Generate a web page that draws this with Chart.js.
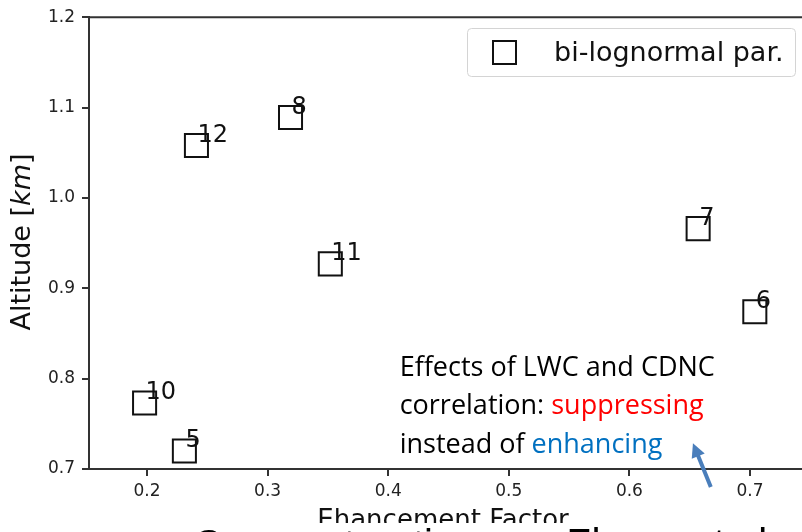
<!DOCTYPE html>
<html>
<head>
  <meta charset="utf-8">
  <title>Enhancement factor vs altitude</title>
  <script src="https://cdn.jsdelivr.net/npm/chart.js"></script>
  <style>
    html, body {
      margin: 0;
      padding: 0;
      background: #fff;
      overflow: hidden;
    }
    #efChart {
      position: absolute;
      left: 0;
      top: 0;
    }
  </style>
</head>
<body>
  <canvas id="efChart" width="830" height="532"></canvas>

  <script>
    // case numbers, enhancement factor and altitude (km) of each case
    const caseIds = ['12', '8', '11', '7', '6', '10', '5'];
    const enhancement = [0.241, 0.319, 0.352, 0.657, 0.704, 0.198, 0.231];
    const altitude = [1.058, 1.089, 0.927, 0.966, 0.874, 0.773, 0.720];

    const xTicks = [0.2, 0.3, 0.4, 0.5, 0.6, 0.7];
    const yTicks = [0.7, 0.8, 0.9, 1.0, 1.1, 1.2];

    const seriesName = 'bi-lognormal par.';
    const axisFont = 'DejaVu Sans';
    const ink = '#111';
    const spine = '#333';

    const points = enhancement.map((x, i) => ({ x: x, y: altitude[i] }));

    // spine on top, case labels, framed legend, note + arrow, axis titles
    const decor = {
      id: 'decor',
      afterDraw(chart) {
        const ctx = chart.ctx;
        const area = chart.chartArea;
        const xs = chart.scales.x;
        const ys = chart.scales.y;
        ctx.save();

        ctx.strokeStyle = spine;
        ctx.lineWidth = 2;
        ctx.beginPath();
        ctx.moveTo(area.left - 1, area.top);
        ctx.lineTo(area.right, area.top);
        ctx.stroke();

        // case number beside each marker
        ctx.fillStyle = ink;
        ctx.font = '24px "' + axisFont + '"';
        ctx.textAlign = 'left';
        ctx.textBaseline = 'middle';
        const meta = chart.getDatasetMeta(0);
        meta.data.forEach((pt, i) => {
          ctx.fillText(caseIds[i], pt.x + 1, pt.y - 10);
        });

        // legend box
        const lx = 467, ly = 28, lw = 328, lh = 48;
        ctx.beginPath();
        ctx.roundRect(lx + 0.5, ly + 0.5, lw, lh, 4);
        ctx.fillStyle = 'rgba(255,255,255,0.9)';
        ctx.fill();
        ctx.strokeStyle = '#d4d4d4';
        ctx.lineWidth = 1;
        ctx.stroke();
        ctx.strokeStyle = ink;
        ctx.lineWidth = 2;
        ctx.strokeRect(lx + 26, ly + 13, 23, 23);
        ctx.fillStyle = ink;
        ctx.font = '27px "' + axisFont + '"';
        ctx.textBaseline = 'alphabetic';
        ctx.fillText(seriesName, lx + 87, ly + 33);

        // note about LWC / CDNC correlation
        const nx = xs.getPixelForValue(0.4095);
        const ny = ys.getPixelForValue(0.8033);
        ctx.font = '27px "Open Sans"';
        const lines = [
          [['Effects of LWC and CDNC', '#000']],
          [['correlation: ', '#000'], ['suppressing', '#ff0000']],
          [['instead of ', '#000'], ['enhancing', '#0070c0']]
        ];
        lines.forEach((parts, row) => {
          let cx = nx;
          parts.forEach(([txt, col]) => {
            ctx.fillStyle = col;
            ctx.fillText(txt, cx, ny + row * 38.5);
            cx += ctx.measureText(txt).width;
          });
        });

        // arrow pointing at the note
        const ax0 = xs.getPixelForValue(0.6675), ay0 = ys.getPixelForValue(0.6802);
        const ax1 = xs.getPixelForValue(0.6527), ay1 = ys.getPixelForValue(0.7286);
        const ang = Math.atan2(ay1 - ay0, ax1 - ax0);
        const head = 14;
        ctx.strokeStyle = '#4a7ebb';
        ctx.fillStyle = '#4a7ebb';
        ctx.lineWidth = 4;
        ctx.beginPath();
        ctx.moveTo(ax0, ay0);
        ctx.lineTo(ax1 - Math.cos(ang) * head * 0.8, ay1 - Math.sin(ang) * head * 0.8);
        ctx.stroke();
        ctx.beginPath();
        ctx.moveTo(ax1, ay1);
        ctx.lineTo(ax1 - Math.cos(ang) * head - Math.sin(ang) * 7, ay1 - Math.sin(ang) * head + Math.cos(ang) * 7);
        ctx.lineTo(ax1 - Math.cos(ang) * head + Math.sin(ang) * 7, ay1 - Math.sin(ang) * head - Math.cos(ang) * 7);
        ctx.closePath();
        ctx.fill();

        // y title with italic unit
        ctx.fillStyle = ink;
        ctx.save();
        ctx.translate(23, 242);
        ctx.rotate(-Math.PI / 2);
        ctx.textBaseline = 'middle';
        const normal = '27px "' + axisFont + '"';
        const italic = 'italic 27px "' + axisFont + '"';
        const segs = [['Altitude [', normal], ['km', italic], [']', normal]];
        let total = 0;
        segs.forEach(([t, f]) => { ctx.font = f; total += ctx.measureText(t).width; });
        let tx = -total / 2;
        segs.forEach(([t, f]) => {
          ctx.font = f;
          ctx.fillText(t, tx, 0);
          tx += ctx.measureText(t).width;
        });
        ctx.restore();

        // x title
        ctx.font = '26px "' + axisFont + '"';
        ctx.textAlign = 'center';
        ctx.textBaseline = 'alphabetic';
        ctx.fillText('Ehancement Factor', 443, 528);

        // slide heading box overlapping the bottom of the figure
        ctx.fillStyle = '#fff';
        ctx.fillRect(180, 523, 650, 12);
        ctx.fillStyle = '#000';
        ctx.font = '40px "Liberation Sans"';
        ctx.textAlign = 'left';
        ctx.fillText('Supersaturation', 195, 558);
        ctx.fillText('Zhang et al.', 567, 557);

        ctx.restore();
      }
    };

    new Chart(document.getElementById('efChart'), {
      type: 'scatter',
      data: {
        datasets: [{
          label: seriesName,
          data: points,
          pointStyle: 'rect',
          pointRadius: 16.3,
          pointHoverRadius: 16.3,
          borderColor: ink,
          borderWidth: 2,
          backgroundColor: 'rgba(0,0,0,0)'
        }]
      },
      options: {
        responsive: false,
        animation: false,
        layout: { autoPadding: false, padding: { top: 14, left: 0, right: 0, bottom: 0 } },
        plugins: {
          legend: { display: false },
          tooltip: { enabled: false }
        },
        scales: {
          x: {
            type: 'linear',
            min: 0.15191,
            max: 0.76634,
            afterBuildTicks: axis => { axis.ticks = xTicks.map(v => ({ value: v })); },
            afterFit: axis => { axis.height = 63; },
            border: { display: true, color: spine, width: 2 },
            grid: { drawOnChartArea: false, drawTicks: true, tickLength: 7, color: spine, lineWidth: 2 },
            ticks: {
              padding: 5,
              maxRotation: 0,
              color: '#222',
              font: { family: axisFont, size: 17 },
              callback: v => v.toFixed(1)
            }
          },
          y: {
            type: 'linear',
            min: 0.7,
            max: 1.2,
            afterBuildTicks: axis => { axis.ticks = yTicks.map(v => ({ value: v })); },
            afterFit: axis => { axis.width = 89; },
            border: { display: true, color: spine, width: 2 },
            grid: { drawOnChartArea: false, drawTicks: true, tickLength: 7, color: spine, lineWidth: 2 },
            ticks: {
              padding: 7,
              color: '#222',
              font: { family: axisFont, size: 17 },
              callback: v => v.toFixed(1)
            }
          }
        }
      },
      plugins: [decor]
    });
  </script>
</body>
</html>
